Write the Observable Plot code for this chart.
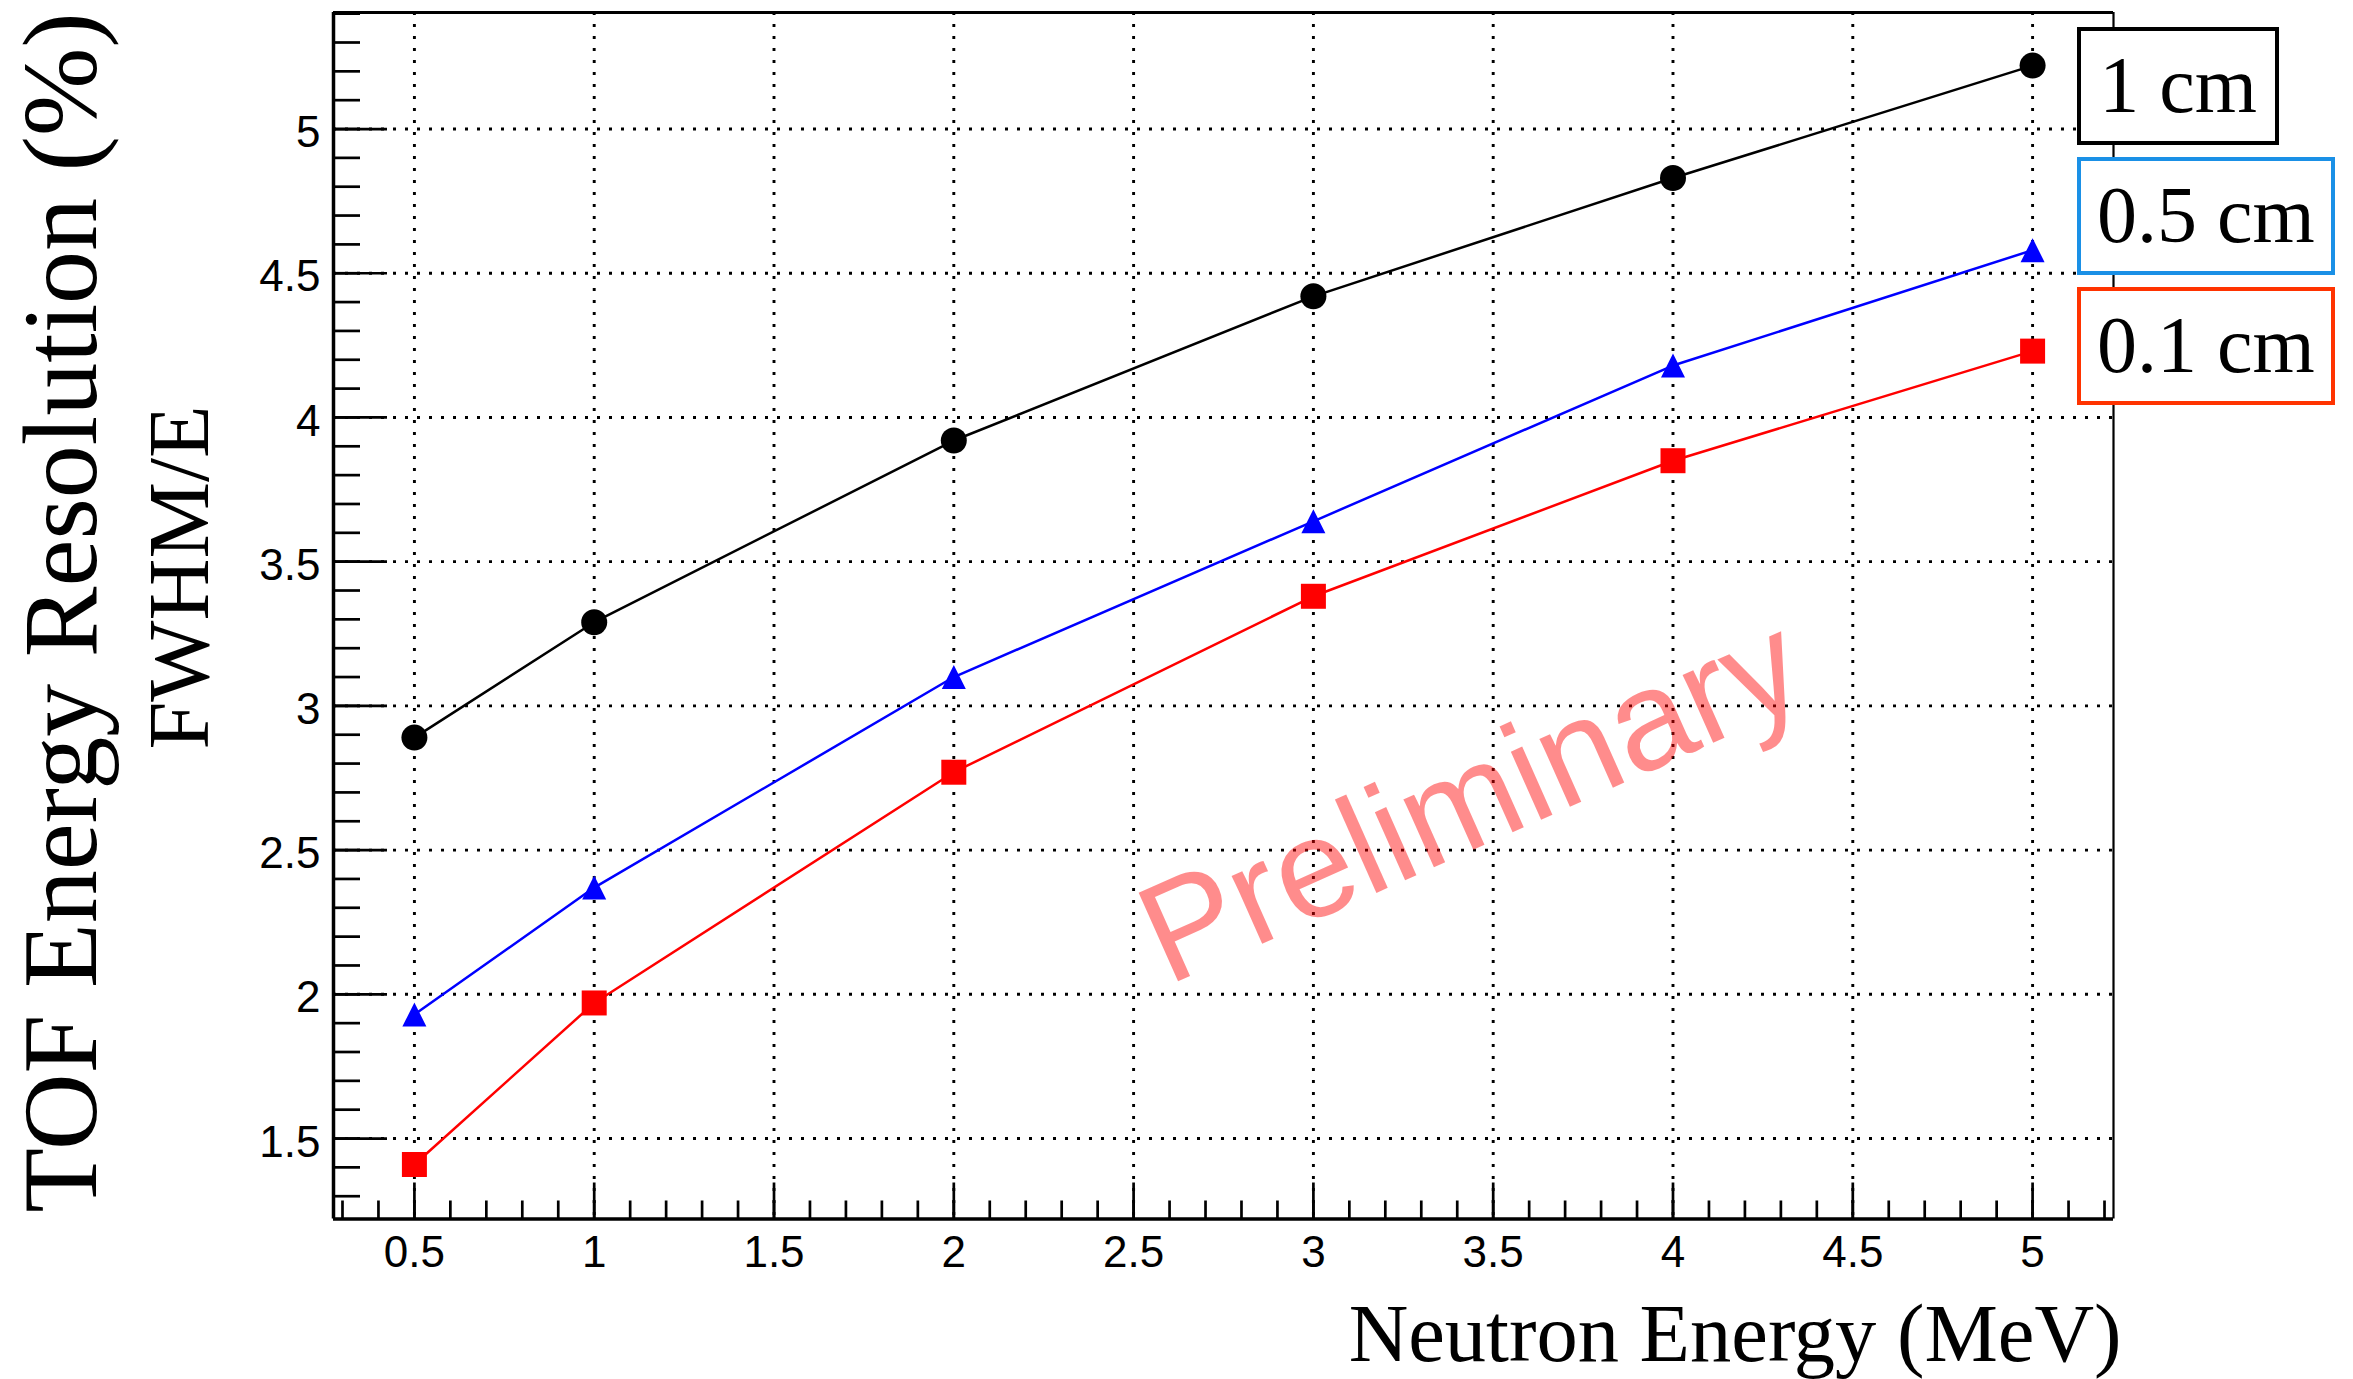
<!DOCTYPE html>
<html><head><meta charset="utf-8">
<script src="https://cdn.jsdelivr.net/npm/d3@7"></script>
<script src="https://cdn.jsdelivr.net/npm/@observablehq/plot@0.6"></script>
<style>
html,body{margin:0;padding:0;background:#fff;}
#wrap{position:relative;width:2353px;height:1379px;overflow:hidden;background:#fff;}
#wrap svg{position:absolute;left:0;top:0;}
#legend{position:absolute;left:2077px;top:27px;display:flex;flex-direction:column;align-items:flex-start;gap:12px;z-index:2;}
.lg{box-sizing:border-box;height:118px;min-width:202px;padding:0 16px;border:4.5px solid #000;background:#fff;font-family:"Liberation Serif","Times New Roman",serif;font-size:80px;line-height:109px;text-align:center;white-space:nowrap;color:#000;}
</style></head><body><div id="wrap"><div id="legend"></div></div>
<script>
// ---- data ----
const energies = [0.5, 1, 2, 3, 4, 5];
const res1cm  = [2.89, 3.29, 3.92, 4.42, 4.83, 5.22];
const res05cm = [1.93, 2.37, 3.10, 3.64, 4.18, 4.58];
const res01cm = [1.41, 1.97, 2.77, 3.38, 3.85, 4.23];
const seriesNames = ["1 cm", "0.5 cm", "0.1 cm"];
const xTicks = [0.5, 1, 1.5, 2, 2.5, 3, 3.5, 4, 4.5, 5];
const yTicks = [1.5, 2, 2.5, 3, 3.5, 4, 4.5, 5];
const xTitle = "Neutron Energy (MeV)";
const yTitle = "TOF Energy Resolution (%)";
const ySubTitle = "FWHM/E";
const watermark = ["Preliminary"];

// ---- styles ----
const lineColors = ["#000000", "#0000ff", "#ff0000"];
const legendBorders = ["#000000", "#1a90e6", "#ff3300"];
const W = 2353, H = 1379;
const mL = 333, mR = 240, mT = 12, mB = 160.5;
const frameW = W - mL - mR, frameH = H - mT - mB;

const circleSym = {draw(ctx, size) { const r = Math.sqrt(size / Math.PI); ctx.moveTo(r, 0); ctx.arc(0, 0, r, 0, 2 * Math.PI); }};
const triSym = {draw(ctx, size) { const r = Math.sqrt(size / Math.PI); ctx.moveTo(0, -r); ctx.lineTo(r, r); ctx.lineTo(-r, r); ctx.closePath(); }};
const sqSym = {draw(ctx, size) { const r = Math.sqrt(size / Math.PI); ctx.rect(-r, -r, 2 * r, 2 * r); }};
const symbols = [circleSym, triSym, sqSym];
const symR = [13, 12, 12.5];

const seriesValues = [res1cm, res05cm, res01cm];
const rows = seriesNames.map((name, s) => energies.map((e, i) => ({series: name, s, energy: e, value: seriesValues[s][i]})));

const xMinor = d3.range(3, 53).map(d => d / 10);
const yMinor = d3.range(13, 55).map(d => d / 10);
const fmt = d => String(d);
const sans = "'Liberation Sans', Arial, Helvetica, sans-serif";
const serif = "'Liberation Serif', 'Times New Roman', Times, serif";
const tickW = 2.7;
const xDom = [0.275, 5.225], yDom = [1.221, 5.404];

const marks = [
  // grid
  Plot.ruleX(xTicks, {x: d => d, stroke: "#000", strokeWidth: 2.9, strokeDasharray: "3,9"}),
  Plot.ruleY(yTicks, {y: d => d, stroke: "#000", strokeWidth: 2.9, strokeDasharray: "3,9"}),
  // inward ticks
  Plot.ruleX(xMinor, {x: d => d, insetTop: frameH - 18, stroke: "#000", strokeWidth: tickW}),
  Plot.ruleX(xTicks, {x: d => d, insetTop: frameH - 36, stroke: "#000", strokeWidth: tickW}),
  Plot.ruleY(yMinor, {y: d => d, insetRight: frameW - 27, stroke: "#000", strokeWidth: tickW}),
  Plot.ruleY(yTicks, {y: d => d, insetRight: frameW - 54, stroke: "#000", strokeWidth: tickW}),
  // frame
  Plot.ruleX([xDom[0]], {x: d => d, stroke: "#000", strokeWidth: 3.5}),
  Plot.ruleX([xDom[1]], {x: d => d, stroke: "#000", strokeWidth: 2.2}),
  Plot.ruleY([yDom[0]], {y: d => d, stroke: "#000", strokeWidth: 3.5}),
  Plot.ruleY([yDom[1]], {y: d => d, stroke: "#000", strokeWidth: 3})
];
// series
rows.forEach((data, s) => {
  marks.push(Plot.line(data, {x: "energy", y: "value", stroke: lineColors[s], strokeWidth: 2.5}));
});
rows.forEach((data, s) => {
  marks.push(Plot.dot(data, {x: "energy", y: "value", symbol: symbols[s], r: symR[s], fill: lineColors[s], stroke: "none"}));
});
// tick labels, titles, watermark
marks.push(
  Plot.text(xTicks, {x: d => d, frameAnchor: "bottom", text: fmt, lineAnchor: "top", dy: 16.5, fontSize: 44, fontFamily: sans, fill: "#000"}),
  Plot.text(yTicks, {y: d => d, frameAnchor: "left", text: fmt, textAnchor: "end", dx: -13, dy: 4, fontSize: 44, fontFamily: sans, fill: "#000"}),
  Plot.text([xTitle], {frameAnchor: "bottom-right", text: d => d, textAnchor: "end", lineAnchor: "bottom", dx: 8, dy: 141.5, fontSize: 82.5, fontFamily: serif, fill: "#000"}),
  Plot.text([yTitle], {frameAnchor: "top-left", text: d => d, textAnchor: "end", lineAnchor: "bottom", rotate: -90, dx: 95 - mL, dy: 0, fontSize: 106, fontFamily: serif, fill: "#000"}),
  Plot.text([ySubTitle], {frameAnchor: "top-left", text: d => d, textAnchor: "middle", lineAnchor: "bottom", rotate: -90, dx: 207 - mL, dy: 577 - mT, fontSize: 86, fontFamily: serif, fill: "#000"}),
  Plot.text(watermark, {frameAnchor: "middle", text: d => d, textAnchor: "middle", lineAnchor: "bottom", rotate: -24, dx: 1489 - (mL + frameW / 2), dy: 842 - (mT + frameH / 2), fontSize: 141, fontFamily: sans, fill: "#ff0000", fillOpacity: 0.45})
);

const chart = Plot.plot({
  width: W, height: H,
  marginLeft: mL, marginRight: mR, marginTop: mT, marginBottom: mB,
  x: {domain: xDom, axis: null},
  y: {domain: yDom, axis: null},
  style: {background: "transparent", overflow: "visible", fontFamily: sans},
  marks
});
const wrap = document.getElementById("wrap");
wrap.insertBefore(chart, wrap.firstChild);

const legend = document.getElementById("legend");
seriesNames.forEach((name, s) => {
  const div = document.createElement("div");
  div.className = "lg";
  div.style.borderColor = legendBorders[s];
  div.textContent = name;
  legend.appendChild(div);
});
</script></body></html>
